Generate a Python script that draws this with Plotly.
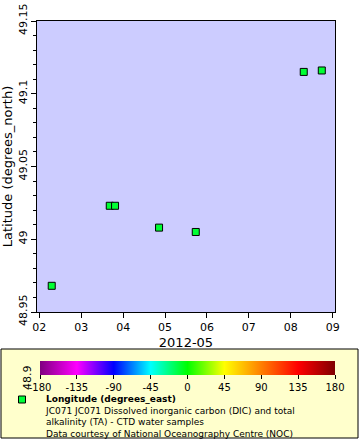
import plotly.graph_objects as go

# ---- data ----
times = ['2012-05-02 07:06', '2012-05-03 16:20', '2012-05-03 19:22', '2012-05-04 20:34',
         '2012-05-05 17:35', '2012-05-08 07:26', '2012-05-08 17:46']
lats = [48.968, 49.023, 49.023, 49.008, 49.005, 49.115, 49.116]
lons = [-9.0, -9.0, -9.0, -9.0, -9.0, -9.0, -9.0]

day_ticks = ['2012-05-0%d' % d for d in range(2, 10)]
day_labels = ['02', '03', '04', '05', '06', '07', '08', '09']
lat_ticks = [48.95, 49.0, 49.05, 49.1, 49.15]
lat_labels = ['48.95', '49', '49.05', '49.1', '49.15']
cb_ticks = [-180, -135, -90, -45, 0, 45, 90, 135, 180]

colorscale = [[0.0, '#800080'], [0.125, '#ff00ff'], [0.25, '#0000ff'], [0.375, '#00ffff'],
              [0.5, '#00ff00'], [0.625, '#ffff00'], [0.875, '#ff0000'], [1.0, '#800000']]

W, H = 360, 440
L, R, T, B = 37, 25, 21, 128
pw, ph = W - L - R, H - T - B


def px(x):
    return (x - L) / pw


def py(y):
    return (H - B - y) / ph


FONT = 'DejaVu Sans'

fig = go.Figure()
fig.add_trace(go.Scatter(
    x=times, y=lats, mode='markers',
    marker=dict(symbol='square', size=7, color=lons, colorscale=colorscale,
                cmin=-180, cmax=180, line=dict(color='black', width=1),
                showscale=True,
                colorbar=dict(orientation='h', x=px(187.5), xanchor='center',
                              y=py(361), yanchor='top', len=295, lenmode='pixels',
                              thickness=14, thicknessmode='pixels',
                              tickvals=cb_ticks, ticktext=[str(v) for v in cb_ticks],
                              ticks='outside', ticklen=4, tickcolor='black',
                              outlinewidth=0, xpad=0, ypad=0,
                              tickfont=dict(family=FONT, size=10, color='black'))),
    showlegend=False, hoverinfo='skip'))

# legend box
shapes = [dict(type='rect', xref='paper', yref='paper', x0=px(1), x1=px(358), y0=py(349), y1=py(438),
               fillcolor='#ffffcc', line=dict(color='black', width=1), layer='below'),
          dict(type='rect', xref='paper', yref='paper', x0=px(18.5), x1=px(25.5), y0=py(396), y1=py(403),
               fillcolor='#00ff39', line=dict(color='black', width=1))]

legend_title = 'Longitude (degrees_east)'
lines = ['JC071 JC071 Dissolved inorganic carbon (DIC) and total',
         'alkalinity (TA) - CTD water samples',
         'Data courtesy of National Oceanography Centre (NOC)']

ann = []
ann.append(dict(text='<b>' + legend_title + '</b><br>' + '<br>'.join(lines),
                x=px(43), y=py(416), xref='paper', yref='paper', align='left',
                xanchor='left', yanchor='middle', showarrow=False,
                font=dict(family=FONT, size=9, color='black')))
ann.append(dict(text='48.9', x=px(27), y=py(378), xref='paper', yref='paper', textangle=-90,
                xanchor='center', yanchor='middle', showarrow=False,
                font=dict(family=FONT, size=11, color='black')))

fig.update_layout(
    width=W, height=H, margin=dict(l=L, r=R, t=T, b=B, autoexpand=False),
    paper_bgcolor='white', plot_bgcolor='#ccccff',
    shapes=shapes, annotations=ann,
    xaxis=dict(type='date', range=['2012-05-01 22:40', '2012-05-09 01:20'],
               tickvals=day_ticks, ticktext=day_labels, ticks='outside', ticklen=5,
               tickcolor='black', showline=True, linecolor='black', linewidth=1, mirror=True,
               showgrid=False, zeroline=False, automargin=False,
               tickfont=dict(family=FONT, size=11, color='black'),
               title=dict(text='2012-05', font=dict(family=FONT, size=13, color='black'), standoff=4)),
    yaxis=dict(range=[48.95, 49.15], tickvals=lat_ticks, ticktext=lat_labels, tickangle=-90,
               ticks='outside', ticklen=5, tickcolor='black',
               minor=dict(tickvals=[round(48.95 + 0.01 * i, 2) for i in range(21)], ticks='outside',
                          ticklen=3, tickcolor='black'),
               showline=True, linecolor='black', linewidth=1, mirror=True,
               showgrid=False, zeroline=False, automargin=False,
               tickfont=dict(family=FONT, size=11, color='black'),
               title=dict(text='Latitude (degrees_north)', font=dict(family=FONT, size=13, color='black'),
                          standoff=4)),
)

fig.write_html('out.html', config={'displayModeBar': False},
               post_script="document.body.style.margin='0';")
